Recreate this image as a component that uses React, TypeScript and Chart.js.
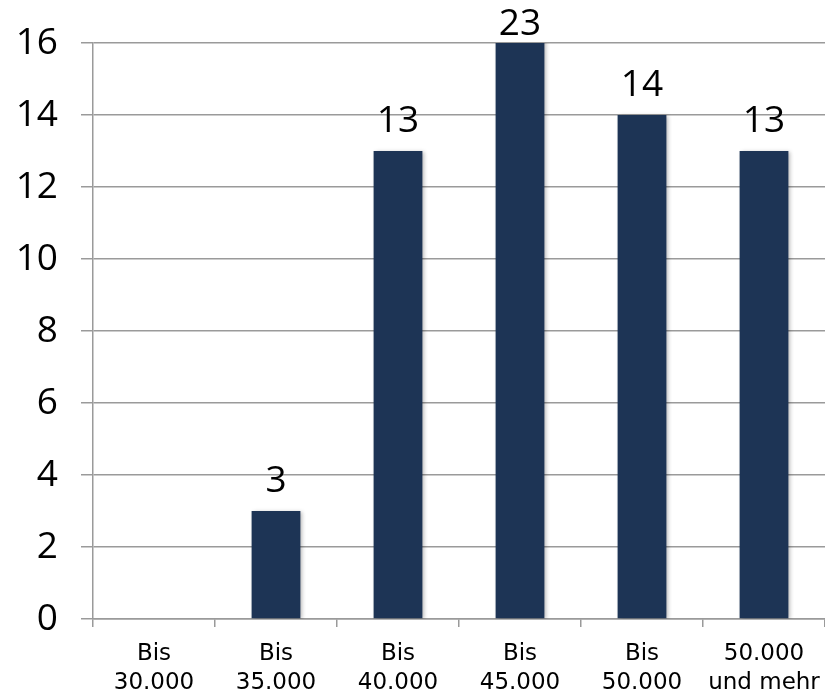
import React, { useEffect, useRef } from "react";
import { Chart, registerables } from "chart.js";

Chart.register(...registerables);

const categories: string[][] = [
  ["Bis", "30.000"],
  ["Bis", "35.000"],
  ["Bis", "40.000"],
  ["Bis", "45.000"],
  ["Bis", "50.000"],
  ["50.000", "und mehr"],
];
const values: number[] = [0, 3, 13, 23, 14, 13];
const yMax = 16;
const yStep = 2;

const BAR_COLOR = "#1d3455";
const GRID_COLOR = "#9a9a9a";
const NUM_FONT = "'Open Sans', 'DejaVu Sans', sans-serif";
const CAT_FONT = "'DejaVu Sans', Verdana, sans-serif";

const shadowPlugin = {
  id: "barShadow",
  beforeDatasetDraw(chart: any) {
    const ctx = chart.ctx;
    ctx.save();
    ctx.shadowColor = "rgba(0,0,0,0.28)";
    ctx.shadowBlur = 4;
    ctx.shadowOffsetX = 2;
    ctx.shadowOffsetY = 1;
  },
  afterDatasetDraw(chart: any) {
    chart.ctx.restore();
  },
};

const labelPlugin = {
  id: "valueLabels",
  afterDatasetsDraw(chart: any) {
    const ctx = chart.ctx;
    const meta = chart.getDatasetMeta(0);
    const data = chart.data.datasets[0].data as number[];
    const top = chart.chartArea.top;
    ctx.save();
    ctx.fillStyle = "#000";
    ctx.font = `37px ${NUM_FONT}`;
    ctx.textAlign = "center";
    ctx.textBaseline = "alphabetic";
    meta.data.forEach((bar: any, i: number) => {
      const v = data[i];
      if (!v) return;
      const clipped = bar.y < top;
      const y = clipped ? top - 8 : bar.y - 19;
      ctx.fillText(String(v), bar.x, y);
    });
    ctx.restore();
  },
};

export default function App() {
  const ref = useRef<HTMLCanvasElement | null>(null);

  useEffect(() => {
    if (!ref.current) return;
    const chart = new Chart(ref.current, {
      type: "bar",
      data: {
        labels: categories,
        datasets: [
          {
            data: values,
            backgroundColor: BAR_COLOR,
            borderWidth: 0,
            categoryPercentage: 1,
            barPercentage: 0.4,
          },
        ],
      },
      options: {
        animation: false,
        responsive: false,
        maintainAspectRatio: false,
        layout: { padding: { top: 43, right: 0, left: 0, bottom: 0 } },
        plugins: {
          legend: { display: false },
          tooltip: { enabled: false },
        },
        scales: {
          x: {
            offset: true,
            grid: {
              offset: true,
              drawOnChartArea: false,
              drawTicks: true,
              tickLength: 8,
              color: GRID_COLOR,
              lineWidth: 1.5,
            },
            border: { color: GRID_COLOR, width: 1.5 },
            ticks: {
              color: "#000",
              font: { family: CAT_FONT, size: 23, lineHeight: 1.26 },
              maxRotation: 0,
              minRotation: 0,
              autoSkip: false,
              padding: 13,
            },
            afterFit(scale: any) {
              scale.height = 74;
              scale.paddingLeft = 0;
              scale.paddingRight = 0;
            },
          },
          y: {
            min: 0,
            max: yMax,
            grid: {
              color: GRID_COLOR,
              lineWidth: 1.5,
              tickLength: 12,
              drawTicks: true,
            },
            border: { color: GRID_COLOR, width: 1.5 },
            ticks: {
              stepSize: yStep,
              color: "#000",
              font: { family: NUM_FONT, size: 37 },
              padding: 23,
            },
            afterFit(scale: any) {
              scale.width = 93;
              scale.paddingTop = 0;
              scale.paddingBottom = 0;
            },
          },
        },
      },
      plugins: [shadowPlugin, labelPlugin],
    });
    return () => chart.destroy();
  }, []);

  return (
    <div style={{ position: "absolute", left: 0, top: 0, width: 825, height: 693, background: "#fff" }}>
      <canvas ref={ref} width={825} height={693} />
    </div>
  );
}
